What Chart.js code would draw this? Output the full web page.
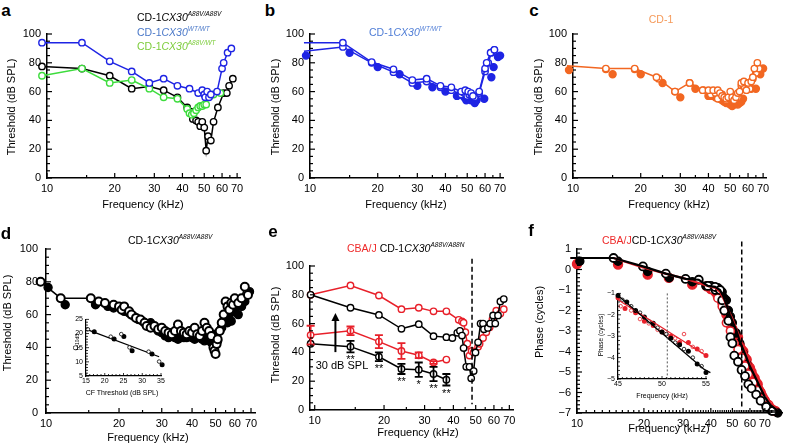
<!DOCTYPE html>
<html><head><meta charset="utf-8">
<script src="https://cdn.jsdelivr.net/npm/chart.js@4"></script>
<style>
body{margin:0;background:#fff;}
#w{position:relative;width:788px;height:445px;overflow:hidden;background:#fff;font-family:'Liberation Sans',Arial,Helvetica,sans-serif;color:#000;}
canvas{position:absolute;}
.t{position:absolute;white-space:nowrap;line-height:1;}
.c{transform:translate(-50%,-50%);}
.lc{transform:translate(0,-50%);}
.r{transform:translate(-50%,-50%) rotate(-90deg);}
sup{font-size:0.62em;font-style:italic;vertical-align:0.75em;line-height:0;}
sub{font-size:0.7em;vertical-align:-0.3em;line-height:0;}
</style></head><body><div id="w"></div>
<script>
// ---------------- DATA ----------------
// panel a : [frequency kHz, threshold dB SPL]
const aBlack = [[9.5,77.5],[14.3,76],[19,71],[23.8,62],[28.5,63.5],[33,61],[38,56],[42,49],[43.5,46],[44.5,41],[46,40],[47,39],[48,36],[49,39],[50,35],[51,19],[52,29],[53.5,26],[55,39],[57.5,49],[61,59],[63,59],[64.5,64],[67,69]];
const aBlue  = [[9.5,94],[14.3,94],[19,81],[23.8,74],[28.5,66],[33,69],[38,64],[43,62],[47,59],[49,61],[50,58],[50.5,56],[51.5,60],[52.5,56],[53.5,58],[57,60],[60,76],[61,80],[63.5,87],[66,90]];
const aGreen = [[9.5,71],[14.3,76],[19,66],[23.8,68],[28.5,62],[33,56],[38,55],[42,48],[43,45],[44,44],[45,45],[46,47],[47,49],[48,50],[49,50],[50,51],[51,51],[53,57],[55,58],[59,59]];
// panel b
const bOpen1 = [[9.4,94],[14,94],[18.8,80.5],[23.5,75.5],[28.5,68],[33,69],[38,64],[42.5,63],[47,60],[49,61],[50.5,60],[52,59],[53,57],[56.5,60],[60,76],[61,80],[63.5,87],[66,89]];
const bOpen2 = [[9.4,88],[14,91],[18.8,80],[23.5,73.5],[28.5,66],[33,67],[38,63],[42.5,61],[47,58],[48.5,59],[50,57],[51,58],[52.5,57],[54,56],[56.5,59],[60,74],[62,80],[64,87],[66,89]];
const bFilled = [[9.6,85],[15,87],[20,77],[25,72],[30,64],[35,63],[40,60],[45,57],[46.5,58],[47.5,59],[48.5,56],[49.5,54],[50,57],[51,55],[52,54],[53,56],[54,52],[55,54],[59.5,55],[64,70],[65.5,77],[68.5,84],[70,85]];
// panel c
const cOpen1 = [[9.4,78],[14,76],[18.8,76],[23.5,70],[28.4,60],[33,66],[37.7,61],[40,61],[42,61],[44,61],[45,59],[46,57],[47,56],[48,55],[49,56],[50,60],[51,56],[52,54],[53,56],[54,59],[55,60],[56,66],[57.5,67],[59,61],[60,66],[62,67],[63,70],[64,76],[66,80]];
const cOpen2 = [[9.4,76],[14,75.5],[18.8,75.5],[24,69],[28.4,60],[33,66],[38,61],[41,58],[43,59],[44,55],[46,58],[48,54],[50,57],[52,55],[54,56],[56,64],[58,63],[61,62],[63,69],[65,73],[67,76]];
const cFilled = [[9.6,75],[15,72],[20,72],[25,66],[30,56],[35,62],[40,57],[41,57],[42,58],[43,56],[44,57],[45,55],[46,54],[47,53],[48,52],[49,52],[50,51],[51,50],[52,51],[53,52],[54,51],[55,52],[56,53],[57,55],[58.5,62],[62,62],[65,62],[68,72],[70,76]];
// panel d
const dOpen = [[9.5,80],[11.5,70],[15.3,70],[16.5,68],[17.5,67],[19,66],[20,65],[20.5,63],[21,65],[22,62],[22.5,60],[23.5,58],[24.5,57],[25.5,55],[26,53],[27,52],[28,53],[29,51],[30,52],[31,50],[32,49],[33,48],[34,50],[35,54],[36,50],[37,49],[38,48],[39,50],[40,49],[41,52],[42,48],[43,47],[44,50],[45,55],[46,52],[47,50],[48,47],[49,40],[49.5,38],[50,36],[50.5,42],[51,45],[52,50],[53,55],[54,60],[55,68],[56,65],[57,63],[58,67],[59,66],[60,70],[62,67],[64,70],[66,77],[68,72]];
const dFilled = [[10.2,76.5],[12,66],[16,66],[18,65],[19,64],[21,62],[22,61],[23,59],[24,57],[25,56],[26,54],[27,55],[28,52],[29,50],[30,49],[31,47],[32,46],[33,47],[34,46],[35,45],[36,46],[37,46],[38,46],[39,47],[40,46],[41,45],[42,47],[43,46],[44,45],[45,44],[46,48],[47,45],[48,43],[49,47],[50,48],[51,44],[52,50],[53,52],[54,55],[55,58],[56,55],[57,60],[58,56],[59,62],[60,63],[62,60],[64,65],[66,68],[69,74]];
// panel d inset: [CF threshold dB SPL, Q10dB]
const dInOpen = [[15.5,21.5],[21.6,18.9],[24.4,19.8],[26.6,15.1],[31.7,13.6],[34.5,10.1]];
const dInFilled = [[17.2,20.6],[22.5,18.1],[25.1,19],[27.3,13.9],[32.6,12.8],[35.3,9]];
const dInFit = [[15.5,21.3],[34.5,11.8]];
// panel e
const eRedTop = [[9.6,80],[14.3,86.5],[19,79.5],[23.8,70],[28.3,71],[32.8,68.5],[37.3,68.5],[42.2,62.6],[43.6,61.5],[44.3,60.6],[45.1,54],[46,46],[47,37.8],[48,41],[49,40],[51.2,44],[52,46],[53.8,50],[55.6,54],[57.5,57.5],[59.1,63],[61.4,69],[64,67],[66.2,70]];
const eBlackTop = [[9.6,80],[14.3,71],[19,66],[23.8,56.4],[28.3,59.6],[32.8,51.3],[37.3,50.6],[39.6,50],[41.6,53.6],[42.7,55],[43.6,51.7],[44.3,43],[45.5,30],[47,30],[47.8,22],[49,27],[49.9,40],[51.2,47],[52.5,60],[53.8,60],[54.3,56],[56.5,57],[57.8,60],[59.5,65.7],[60.8,60],[62.5,65.7],[64,75.4],[66.2,77]];
const eFreq = [9.6,14.3,19,23.8,28.3,32.8,37.3];
const eRedMean = [52,55,47.5,41,38,33,35];
const eRedErr = [6.5,3,4.5,5.5,2,1,0];
const eBlackMean = [46,44,37,28.5,28,25,21];
const eBlackErr = [0,4,3,3.5,5,5,4];
const eStars = ['','**','**','**','*','**','**'];
const eArrow = {f:12.3, from:40.2, to:67.3};
const eDash = {f:48.2, from:4, to:105};
// panel f : [frequency kHz, phase cycles]
const fBlackLine = [[9.34,0.56],[14.6,0.56],[19.8,0.15],[25.1,-0.2],[30.8,-0.46],[35.3,-0.5],[38.8,-0.8],[41.8,-0.85],[44,-1.0],[45.5,-1.3],[47,-1.7],[48.7,-2.2],[50.4,-2.6],[52.2,-3.0],[54,-3.5],[55.9,-3.9],[57.9,-4.3],[59.8,-4.7],[63,-5.2],[66.3,-5.7],[69.8,-6.2],[74,-6.6],[79.9,-6.9],[82.8,-7.0]];
const fRedLine = [[9.34,0.56],[14.6,0.56],[19.8,0.1],[25,-0.2],[30.8,-0.45],[35,-0.65],[39,-0.82],[42,-0.9],[44,-1.1],[46,-1.5],[48,-2.0],[50,-2.4],[52,-2.9],[54,-3.3],[56,-3.7],[58,-4.1],[60,-4.6],[63,-5.0],[66,-5.5],[70,-6.0],[74,-6.5],[80,-6.9]];
const fRedFilled = [[10,0.27],[15.3,0.24],[20.8,-0.25],[25.9,-0.41],[33,-0.74],[38.4,-0.82],[40,-0.95],[42,-1.1],[43,-1.3],[44,-1.2],[45,-1.6],[46,-1.9],[47,-2.2],[48,-2.3],[49,-2.7],[50,-2.9],[51,-3.1],[52,-3.4],[53,-3.3],[54,-3.7],[55,-3.9],[56,-4.0],[57,-4.3],[58,-4.4],[59,-4.7],[60,-4.8],[61,-5.0],[62,-5.2],[63,-5.3],[64,-5.5],[65,-5.6],[66,-5.9],[67,-6.0],[68,-6.2],[70,-6.4],[72,-6.6],[75,-6.8],[78,-6.9]];
const fRedOpen = [[41,-1.0],[43,-1.4],[45,-1.8],[47,-2.6],[49,-3.0],[51,-3.6],[53,-3.9],[55,-4.3],[57,-4.7],[59,-5.1],[62,-5.5],[65,-5.9],[69,-6.3],[73,-6.6]];
const fBlackFilled = [[10.3,0.4],[15.3,0.4],[20.8,-0.1],[26,-0.4],[33,-0.6],[38,-0.8],[42,-0.9],[44,-1.0],[45,-1.1],[46,-1.4],[47,-1.5],[48,-2.0],[49,-2.3],[50,-2.6],[52,-3.1],[54,-3.6],[56,-4.1],[58,-4.6],[60,-5.0],[63,-5.5],[66,-6.0],[70,-6.5],[75,-6.9],[80,-7.0]];
const fBlackOpen = [[40,-0.8],[42,-1.0],[43,-0.9],[45,-1.5],[46,-2.0],[48,-2.5],[49,-3.3],[50,-3.6],[51,-4.2],[53,-4.5],[55,-4.9],[57,-5.2],[59,-5.6],[61,-5.8],[64,-6.1],[67,-6.4],[71,-6.7],[76,-6.9]];
const fDash = {f:55.1, from:-6.76, to:1.37};
// panel f inset
const fInBlackPts = [[45,-1.1],[45.5,-1.3],[46,-1.4],[46.5,-1.6],[47,-1.8],[47.5,-1.9],[48,-2.1],[48.5,-2.3],[49,-2.4],[49.5,-2.6],[50,-2.8],[50.5,-2.9],[51,-3.1],[51.5,-3.3],[52,-3.4],[52.5,-3.6],[53,-3.7],[53.5,-4.0],[54,-4.3],[54.5,-4.4],[55,-4.7]];
const fInRedPts = [[45,-1.2],[45.3,-1.6],[45.8,-1.7],[46.5,-1.8],[47,-1.9],[47.5,-2.2],[48,-2.3],[48.5,-2.4],[49,-2.5],[49.5,-2.7],[50,-2.8],[50.5,-2.9],[51,-3.0],[51.5,-3.1],[52,-3.3],[52.5,-2.9],[53,-3.3],[53.5,-3.5],[54,-3.6],[54.5,-3.7],[55,-3.9]];
const fInBlackFit = [[45,-1.1],[54.8,-4.55],[55.5,-4.7]];
const fInRedFit = [[45,-1.3],[55,-3.9]];
const fInDotF = 50.6;
// tick labels
const freqLabels = [10,20,30,40,50,60,70];
const dbLabels = [0,20,40,60,80,100];
const phaseLabels = [1,0,-1,-2,-3,-4,-5,-6,-7];
const qLabels = [5,10,15,20,25];
const cfLabels = [15,20,25,30,35];
const inFreqLabels = [45,50,55];
const inPhaseLabels = [-1,-2,-3,-4,-5];

// ---------------- helpers ----------------
const FONT = "'Liberation Sans', Arial, Helvetica, sans-serif";
Chart.defaults.font.family = FONT;
Chart.defaults.color = '#000';
const W = document.getElementById('w');
function range(a,b,s){const r=[];for(let v=a;v<=b+1e-9;v+=s)r.push(Math.round(v*1000)/1000);return r;}
function txt(html,x,y,o={}){const d=document.createElement('div');d.className='t '+(o.cls||'c');d.innerHTML=html;d.style.left=x+'px';d.style.top=y+'px';d.style.fontSize=(o.size||11)+'px';if(o.color)d.style.color=o.color;if(o.bold)d.style.fontWeight='bold';W.appendChild(d);}
function ds(arr,color,o={}){
  const open=o.open!==false;
  return {data:arr.map(([x,y])=>({x,y})),borderColor:color,borderWidth:o.lw??1.5,showLine:o.line!==false,
    pointRadius:o.r??3.2,pointBorderWidth:o.bw??1.4,pointBorderColor:color,pointBackgroundColor:open?'#fff':color,
    clip:false,tension:0,order:o.order??0,borderDash:o.dash||[]};
}
const minus = v => (v<0?'\u2212'+Math.abs(v):String(v));
function panel(o){
  const p=Object.assign({l:42,t:12,r:14,b:24},o.pad||{});
  const b=o.box;
  const w=Math.round(b.r-b.l+p.l+p.r), h=Math.round(b.b-b.t+p.t+p.b);
  const cv=document.createElement('canvas');
  cv.width=w;cv.height=h;
  Object.assign(cv.style,{left:(b.l-p.l)+'px',top:(b.t-p.t)+'px',width:w+'px',height:h+'px'});
  W.appendChild(cv);
  const fs=o.fs||11;
  const isLab=(v,list)=>list.some(u=>Math.abs(u-v)<1e-6);
  const bw=o.bw||1.5;
  const tickLen=o.tickLen||[5,3];
  const xfmt=o.xfmt||String, yfmt=o.yfmt||String;
  const tickPlugin={id:'inTicks',afterDraw(ch){
    const c=ch.ctx,a=ch.chartArea;c.save();c.strokeStyle='#000';c.lineWidth=o.tlw||1.2;
    c.fillStyle='#000';c.font=fs+'px '+FONT;
    ['x','y'].forEach(id=>{const s=ch.scales[id];const labs=id==='x'?o.xlabels:o.ylabels;
      s.ticks.forEach(t=>{const px=s.getPixelForValue(t.value);const lab=isLab(t.value,labs);const L=lab?tickLen[0]:tickLen[1];
        c.beginPath();
        if(id==='x'){c.moveTo(px,a.bottom);c.lineTo(px,a.bottom-L);}else{c.moveTo(a.left,px);c.lineTo(a.left+L,px);}
        c.stroke();
        if(lab){
          if(id==='x'){c.textAlign='center';c.textBaseline='top';c.fillText(xfmt(t.value),px,a.bottom+(o.xpad??5));}
          else{c.textAlign='right';c.textBaseline='middle';c.fillText(yfmt(t.value),a.left-(o.ypad??6),px);}
        }});});
    c.restore();}};
  const extraPlugin={id:'extra',afterDatasetsDraw(ch){if(o.extra){const c=ch.ctx;c.save();o.extra(c,ch.scales.x,ch.scales.y,ch.chartArea);c.restore();}}};
  return new Chart(cv,{type:'line',data:{datasets:o.datasets},
    options:{responsive:false,animation:false,devicePixelRatio:1,
      layout:{padding:{left:0,top:p.t,right:p.r,bottom:0}},
      plugins:{legend:{display:false},tooltip:{enabled:false}},
      scales:{
        x:{type:o.xlog?'logarithmic':'linear',min:o.xmin,max:o.xmax,
          afterBuildTicks:s=>{s.ticks=o.xticks.map(v=>({value:v}));},
          afterFit:s=>{s.height=p.b;},
          ticks:{display:false},
          grid:{display:false},border:{display:true,color:'#000',width:bw}},
        y:{type:'linear',min:o.ymin,max:o.ymax,
          afterBuildTicks:s=>{s.ticks=o.yticks.map(v=>({value:v}));},
          afterFit:s=>{s.width=p.l;},
          ticks:{display:false},
          grid:{display:false},border:{display:true,color:'#000',width:bw}}
      }},
    plugins:[tickPlugin,extraPlugin]});
}
const freqTicks = range(10,70,5);
const dbTicks = range(0,100,5);
const BLUE='#1e24e4', GREEN='#3ddc3d', ORANGE='#f26722', RED='#e8202a', BLK='#000';

// ---------------- panel a ----------------
panel({box:{l:47,t:34,r:240,b:178},xlog:true,xmin:10,xmax:72.1,ymin:0,ymax:100,
  xticks:freqTicks,xlabels:freqLabels,yticks:dbTicks,ylabels:dbLabels,
  datasets:[ds(aBlue,BLUE,{order:1}),ds(aGreen,GREEN,{order:2}),ds(aBlack,BLK,{order:3})]});
// ---------------- panel b ----------------
panel({box:{l:310,t:34,r:503,b:178},xlog:true,xmin:10,xmax:72.1,ymin:0,ymax:100,
  xticks:freqTicks,xlabels:freqLabels,yticks:dbTicks,ylabels:dbLabels,
  datasets:[ds(bOpen1,BLUE,{order:1}),ds(bOpen2,BLUE,{order:2}),ds(bFilled,BLUE,{open:false,line:false,r:3.5,order:3})]});
// ---------------- panel c ----------------
panel({box:{l:573,t:34,r:766,b:178},xlog:true,xmin:10,xmax:72.1,ymin:0,ymax:100,
  xticks:freqTicks,xlabels:freqLabels,yticks:dbTicks,ylabels:dbLabels,
  datasets:[ds(cOpen1,ORANGE,{order:1}),ds(cOpen2,ORANGE,{order:2,line:false}),ds(cFilled,ORANGE,{open:false,line:false,r:3.5,order:3})]});
// ---------------- panel d ----------------
panel({box:{l:46,t:249,r:255,b:413},xlog:true,xmin:10,xmax:72.7,ymin:0,ymax:100,pad:{l:42,t:12,r:14,b:24},
  xticks:freqTicks,xlabels:freqLabels,yticks:dbTicks,ylabels:dbLabels,ypad:8,
  datasets:[ds(dOpen,BLK,{order:1,r:4,bw:2}),ds(dFilled,BLK,{open:false,line:false,r:4,order:2})]});
// inset d
panel({box:{l:86,t:319,r:161,b:376},xmin:15,xmax:35,ymin:5,ymax:25,fs:7,pad:{l:14,t:5,r:6,b:11},
  xpad:2,ypad:3,bw:1.2,tickLen:[3,2],tlw:0.8,
  xticks:range(15,35,1),xlabels:cfLabels,yticks:range(5,25,1),ylabels:qLabels,
  datasets:[ds(dInFit,BLK,{r:0,lw:1.2,order:3}),ds(dInOpen,BLK,{line:false,r:1.8,bw:0.8,order:1}),ds(dInFilled,BLK,{open:false,line:false,r:1.8,order:2})]});
// ---------------- panel e ----------------
panel({box:{l:310,t:266,r:513,b:409.5},xlog:true,xmin:9.54,xmax:72.6,ymin:0,ymax:100,
  xticks:freqTicks,xlabels:freqLabels,yticks:dbTicks,ylabels:dbLabels,
  datasets:[ds(eRedTop,RED,{order:2}),ds(eBlackTop,BLK,{order:1}),
    ds(eFreq.map((f,i)=>[f,eRedMean[i]]),RED,{order:4}),ds(eFreq.map((f,i)=>[f,eBlackMean[i]]),BLK,{order:3})],
  extra:(c,sx,sy,a)=>{
    c.strokeStyle='#000';c.lineWidth=1.5;c.setLineDash([5,3]);
    c.beginPath();c.moveTo(sx.getPixelForValue(eDash.f),sy.getPixelForValue(eDash.to));c.lineTo(sx.getPixelForValue(eDash.f),sy.getPixelForValue(eDash.from));c.stroke();
    c.setLineDash([]);
    const eb=(mean,err,col)=>{c.strokeStyle=col;c.lineWidth=1.8;eFreq.forEach((f,i)=>{if(!err[i])return;const x=sx.getPixelForValue(f);
      const y1=sy.getPixelForValue(mean[i]+err[i]),y2=sy.getPixelForValue(mean[i]-err[i]);
      c.beginPath();c.moveTo(x,y1);c.lineTo(x,y2);c.moveTo(x-4,y1);c.lineTo(x+4,y1);c.moveTo(x-4,y2);c.lineTo(x+4,y2);c.stroke();});};
    eb(eRedMean,eRedErr,RED);eb(eBlackMean,eBlackErr,BLK);
    c.fillStyle='#000';c.font='11px '+FONT;c.textAlign='center';c.textBaseline='middle';
    eFreq.forEach((f,i)=>{if(eStars[i])c.fillText(eStars[i],sx.getPixelForValue(f),sy.getPixelForValue(eBlackMean[i]-eBlackErr[i])+8);});
    const ax=sx.getPixelForValue(eArrow.f),ay1=sy.getPixelForValue(eArrow.from),ay2=sy.getPixelForValue(eArrow.to);
    c.strokeStyle='#000';c.lineWidth=2;c.beginPath();c.moveTo(ax,ay1);c.lineTo(ax,ay2+6);c.stroke();
    c.beginPath();c.moveTo(ax,ay2);c.lineTo(ax-4,ay2+8);c.lineTo(ax+4,ay2+8);c.closePath();c.fill();
  }});
// ---------------- panel f ----------------
panel({box:{l:577,t:249,r:784,b:413},xlog:true,xmin:10,xmax:83.7,ymin:-7,ymax:1,pad:{l:42,t:12,r:4,b:24},
  xticks:range(10,80,1),xlabels:freqLabels,yticks:range(-7,1,0.2),ylabels:phaseLabels,yfmt:minus,tickLen:[5,3],
  datasets:[ds(fBlackLine,BLK,{order:1,r:0,lw:2.2}),ds(fRedLine,RED,{order:2,r:0,lw:2.2}),
    ds(fBlackOpen.concat(fBlackLine.slice(0,9)),BLK,{line:false,r:4,bw:1.8,order:3}),ds(fRedOpen,RED,{line:false,r:4,bw:1.6,order:4}),
    ds(fBlackFilled,BLK,{open:false,line:false,r:4,order:5}),ds(fRedFilled,RED,{open:false,line:false,r:4.5,order:6})],
  extra:(c,sx,sy)=>{c.strokeStyle='#000';c.lineWidth=1.5;c.setLineDash([5,3]);c.beginPath();
    c.moveTo(sx.getPixelForValue(fDash.f),sy.getPixelForValue(fDash.to));c.lineTo(sx.getPixelForValue(fDash.f),sy.getPixelForValue(fDash.from));c.stroke();}});
// inset f
panel({box:{l:618,t:293,r:706,b:379},xmin:45,xmax:55,ymin:-5,ymax:-1,fs:7,pad:{l:14,t:5,r:6,b:11},
  xpad:2,ypad:3,bw:1.2,tickLen:[3,2],tlw:0.8,yfmt:minus,
  xticks:range(45,55,0.5),xlabels:inFreqLabels,yticks:range(-5,-1,0.2),ylabels:inPhaseLabels,
  datasets:[ds(fInBlackFit,BLK,{r:0,lw:1.3,order:1}),ds(fInRedFit,RED,{r:0,lw:1.3,order:2}),
    ds(fInBlackPts.filter((_,i)=>i%2===0),BLK,{open:false,line:false,r:1.8,order:3}),ds(fInBlackPts.filter((_,i)=>i%2===1),BLK,{line:false,r:1.8,bw:0.8,order:4}),
    ds(fInRedPts.filter((_,i)=>i%2===0),RED,{open:false,line:false,r:1.8,order:5}),ds(fInRedPts.filter((_,i)=>i%2===1),RED,{line:false,r:1.8,bw:0.8,order:6})],
  extra:(c,sx,sy)=>{c.strokeStyle='#555';c.lineWidth=1;c.setLineDash([2,2]);c.beginPath();
    c.moveTo(sx.getPixelForValue(fInDotF),sy.getPixelForValue(-1));c.lineTo(sx.getPixelForValue(fInDotF),sy.getPixelForValue(-5));c.stroke();}});

// ---------------- text ----------------
const cx = 'CD-1<i>CX30</i>';
[['a',6,10],['b',270,10],['c',534,10],['d',6,233],['e',273,231],['f',531,230]].forEach(([l,x,y])=>txt(l,x,y,{size:17,bold:true}));
txt(cx+'<sup>A88V/A88V</sup>',137,17,{cls:'lc',size:10.5});
txt(cx+'<sup>WT/WT</sup>',137,32,{cls:'lc',size:10.5,color:'#4a78c8'});
txt(cx+'<sup>A88V/WT</sup>',137,46,{cls:'lc',size:10.5,color:'#7ccc3a'});
txt(cx+'<sup>WT/WT</sup>',369,32,{cls:'lc',size:10.5,color:'#4f7dd6'});
txt('CD-1',661,19,{size:10.5,color:'#f59a5a'});
txt(cx+'<sup>A88V/A88V</sup>',128,240,{cls:'lc',size:10.5});
txt('<span style="color:#ee2a2a">CBA/J</span> '+cx+'<sup>A88V/A88N</sup>',347,248,{cls:'lc',size:10.5});
txt('<span style="color:#ee2a2a">CBA/J</span>'+cx+'<sup>A88V/A88V</sup>',602,240,{cls:'lc',size:10.5});
[[143,204],[406,204],[669,204],[148,437],[418,432],[669,428]].forEach(([x,y])=>txt('Frequency (kHz)',x,y,{size:11}));
[[11,107],[275,107],[538,107],[7,323],[275,335]].forEach(([x,y])=>txt('Threshold (dB SPL)',x,y,{cls:'r',size:11}));
txt('Phase (cycles)',539,322,{cls:'r',size:11});
txt('30 dB SPL',342,365,{size:11});
txt('Q<sub>10dB</sub>',75,342,{cls:'r',size:7});
txt('CF Threshold (dB SPL)',122,392,{size:7});
txt('Phase (cycles)',601,335,{cls:'r',size:6.5});
txt('Frequency (kHz)',662,395,{size:7});
</script></body></html>
